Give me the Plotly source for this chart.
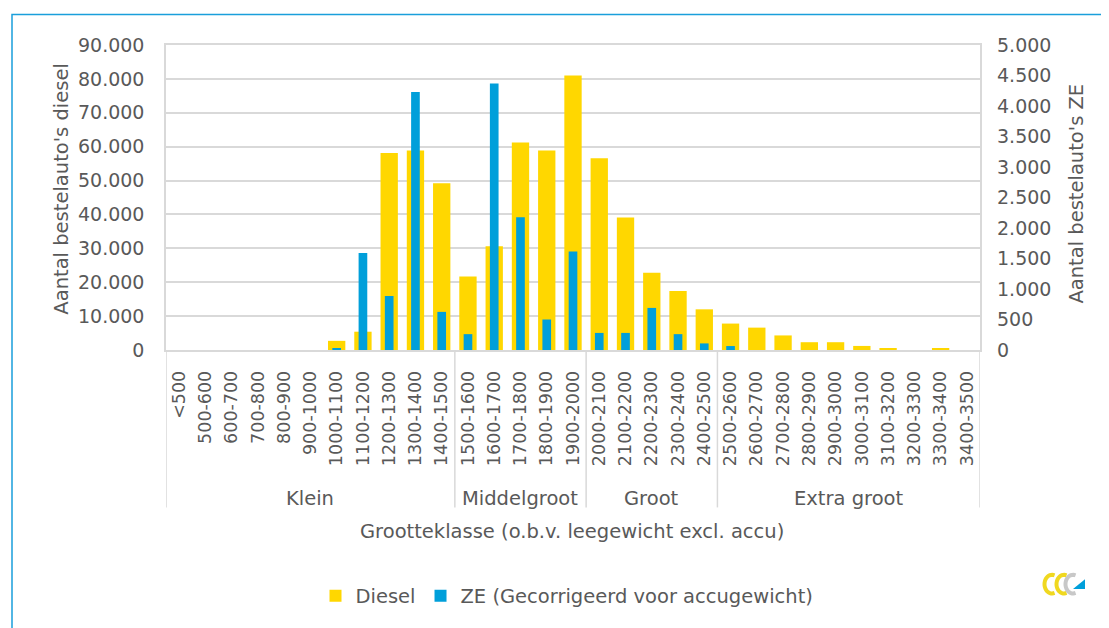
import math
import plotly.graph_objects as go

# Grootteklassen (leegewicht excl. accu, kg)
categories = [
    "<500", "500-600", "600-700", "700-800", "800-900", "900-1000",
    "1000-1100", "1100-1200", "1200-1300", "1300-1400", "1400-1500",
    "1500-1600", "1600-1700", "1700-1800", "1800-1900", "1900-2000",
    "2000-2100", "2100-2200", "2200-2300", "2300-2400", "2400-2500",
    "2500-2600", "2600-2700", "2700-2800", "2800-2900", "2900-3000",
    "3000-3100", "3100-3200", "3200-3300", "3300-3400", "3400-3500",
]

diesel = [
    0, 0, 0, 0, 0, 0,
    2700, 5400, 58100, 58900, 49200,
    21700, 30600, 61200, 58900, 81000,
    56600, 39100, 22800, 17400, 12000,
    7800, 6600, 4300, 2300, 2300,
    1200, 400, 0, 400, 0,
]

ze = [
    0, 0, 0, 0, 0, 0,
    22, 1590, 885, 4230, 625,
    260, 4370, 2175, 500, 1615,
    280, 280, 690, 260, 108,
    65, 0, 0, 0, 0,
    0, 0, 0, 0, 0,
]

groups = ["Klein", "Middelgroot", "Groot", "Extra groot"]
group_sizes = [11, 5, 5, 10]

# the page body has an 8px margin; positions below are in screen pixels
OFF = 8
W, H = 1101, 620
L, T = 166 - OFF, 45 - OFF
R = W - (980 - OFF)
B = H - (355 - OFF)
PW, PH = W - L - R, H - T - B

GREY = "#595959"
GRID = "#d9d9d9"
YELLOW = "#FFD700"
BLUE = "#009FDA"
FONT = "DejaVu Sans"


def px_x(px):
    return (px - OFF - L) / PW


def px_y(py):
    return (H - B - (py - OFF)) / PH


fig = go.Figure()

fig.add_trace(go.Bar(
    x=categories, y=diesel, name="Diesel",
    marker=dict(color=YELLOW, line=dict(width=0)),
    width=0.66, yaxis="y",
))
fig.add_trace(go.Bar(
    x=categories, y=ze, name="ZE (Gecorrigeerd voor accugewicht)",
    marker=dict(color=BLUE, line=dict(width=0)),
    width=0.33, yaxis="y2",
))

# group dividers below the axis and group labels
shapes = []
annotations = []
start = 0
bounds = [-0.5]
for name, size in zip(groups, group_sizes):
    end = start + size
    bounds.append(end - 0.5)
    annotations.append(dict(
        x=(start + end - 1) / 2, y=px_y(506), xref="x", yref="paper",
        text=name, showarrow=False, yanchor="middle",
        font=dict(family=FONT, size=19.5, color=GREY),
    ))
    start = end
for b in bounds:
    shapes.append(dict(
        type="line", xref="x", yref="paper", x0=b, x1=b,
        y0=0, y1=px_y(515), line=dict(color=GRID, width=1.5),
    ))

# axis titles
annotations += [
    dict(x=px_x(572), y=px_y(539), xref="paper", yref="paper",
         text="Grootteklasse (o.b.v. leegewicht excl. accu)",
         showarrow=False, yanchor="middle",
         font=dict(family=FONT, size=19.5, color=GREY)),
    dict(x=px_x(62), y=px_y(192), xref="paper", yref="paper",
         text="Aantal bestelauto's diesel", textangle=-90,
         showarrow=False, xanchor="center",
         font=dict(family=FONT, size=19.5, color=GREY)),
    dict(x=px_x(1077), y=px_y(196), xref="paper", yref="paper",
         text="Aantal bestelauto's ZE", textangle=-90,
         showarrow=False, xanchor="center",
         font=dict(family=FONT, size=19.5, color=GREY)),
]

# blue frame around the picture
shapes.append(dict(
    type="path", xref="paper", yref="paper",
    path=f"M {px_x(12)} {px_y(640)} L {px_x(12)} {px_y(14)} L {px_x(1120)} {px_y(14)}",
    line=dict(color="#1A9FDB", width=1.5),
))


# small logo bottom right
def arc(cx, cy, rx, ry, a0, a1, n=24):
    pts = []
    for i in range(n + 1):
        a = math.radians(a0 + (a1 - a0) * i / n)
        pts.append((px_x(cx + rx * math.cos(a)), px_y(cy - ry * math.sin(a))))
    return "M " + " L ".join(f"{x} {y}" for x, y in pts)


for cx, col in [(1052, "#F0D820"), (1064, "#F0D820"), (1073, "#C8C8C8")]:
    shapes.append(dict(type="path", xref="paper", yref="paper",
                       path=arc(cx, 593, 7.5, 9.5, 70, 290),
                       line=dict(color=col, width=4)))
shapes.append(dict(
    type="path", xref="paper", yref="paper",
    path=f"M {px_x(1073)} {px_y(598)} L {px_x(1085)} {px_y(598)} "
         f"L {px_x(1085)} {px_y(588)} Z",
    fillcolor=BLUE, line=dict(width=0),
))

fig.update_layout(
    width=W, height=H,
    margin=dict(l=L, r=R, t=T, b=B),
    paper_bgcolor="white", plot_bgcolor="white",
    separators=",.",
    barmode="overlay",
    font=dict(family=FONT, size=18, color=GREY),
    xaxis=dict(
        type="category", range=[-0.5, len(categories) - 0.5],
        tickangle=-90, tickfont=dict(family=FONT, size=17.5, color=GREY),
        showgrid=False, showline=True, mirror=True,
        linecolor=GRID, linewidth=1.5, ticks="",
        ticklabelstandoff=12,
    ),
    yaxis=dict(
        range=[0, 90000], dtick=10000, tickformat=",d",
        showgrid=True, gridcolor=GRID, gridwidth=1.5,
        showline=True, mirror=True, linecolor=GRID, linewidth=1.5,
        zeroline=False, ticks="", ticklabelstandoff=16,
        tickfont=dict(family=FONT, size=19, color=GREY),
    ),
    yaxis2=dict(
        range=[0, 5000], dtick=500, tickformat=",d",
        overlaying="y", side="right", showgrid=False,
        zeroline=False, ticks="", ticklabelstandoff=16,
        tickfont=dict(family=FONT, size=19, color=GREY),
    ),
    legend=dict(
        orientation="h", x=px_x(567), xanchor="center",
        y=px_y(605), yanchor="middle",
        font=dict(family=FONT, size=19.5, color=GREY),
        itemwidth=30, traceorder="normal",
    ),
    shapes=shapes,
    annotations=annotations,
)

fig.write_html("out.html")
